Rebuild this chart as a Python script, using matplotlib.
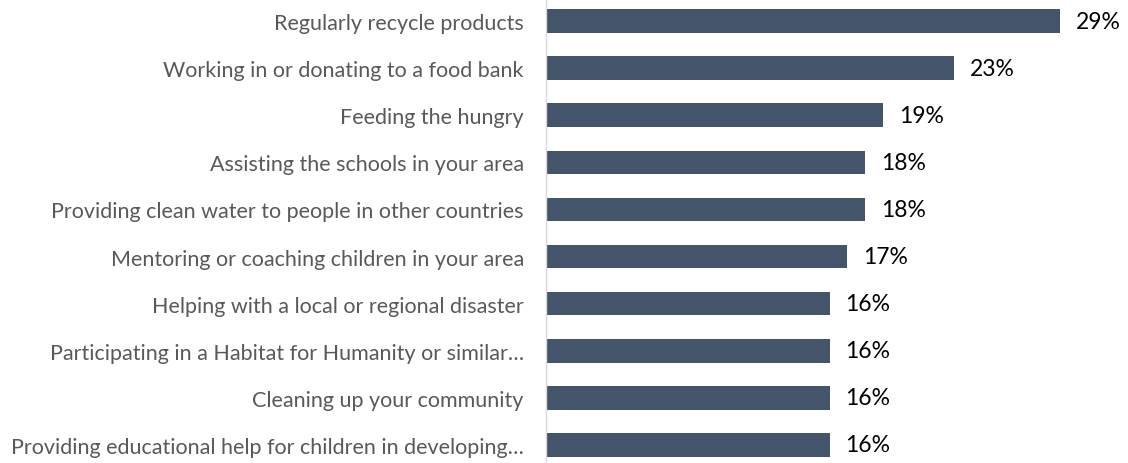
import matplotlib.pyplot as plt

plt.rcParams["font.family"] = ["Lato", "DejaVu Sans"]

labels = ["Regularly recycle products",
          "Working in or donating to a food bank",
          "Feeding the hungry",
          "Assisting the schools in your area",
          "Providing clean water to people in other countries",
          "Mentoring or coaching children in your area",
          "Helping with a local or regional disaster",
          "Participating in a Habitat for Humanity or similar\u2026",
          "Cleaning up your community",
          "Providing educational help for children in developing\u2026"]
values = [29, 23, 19, 18, 18, 17, 16, 16, 16, 16]

fig = plt.figure(figsize=(11.28, 4.64), dpi=100)
ax = fig.add_axes([546/1128, 0, 582/1128, 1])

y = range(len(values))
ax.barh(y, values, height=0.5, color="#44546A")
for yi, v in zip(y, values):
    ax.text(v + 0.9, yi, f"{v}%", va="center", ha="left", fontsize=16.5, color="#000000")

ax.set_xlim(0, 582/17.72)
ax.set_ylim(9 + 18/47.1, -22/47.1)
ax.set_yticks(list(y))
ax.set_yticklabels(labels, fontsize=15.5, color="#595959")
ax.tick_params(axis="y", length=0, pad=16)
ax.set_xticks([])
for s in ["top", "right", "bottom"]:
    ax.spines[s].set_visible(False)
ax.spines["left"].set_color("#D9D9D9")
ax.spines["left"].set_linewidth(1)

fig.savefig("out.png", dpi=100)
